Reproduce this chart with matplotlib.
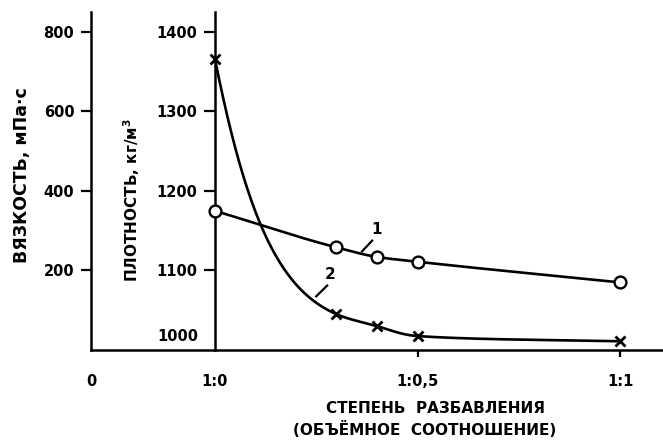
import numpy as np
import matplotlib

matplotlib.use("Agg")
import matplotlib.pyplot as plt

# dilution ratio (water share), tick labels
dilution = [0.0, 0.3, 0.4, 0.5, 1.0]
x_ticks = [0.0, 0.5, 1.0]
x_tick_labels = ["1:0", "1:0,5", "1:1"]

# curve 1: density, kg/m3 (circles)
density = [1175, 1129, 1117, 1111, 1085]
# curve 2: viscosity, mPa*s (crosses)
viscosity = [732, 90, 60, 35, 22]

visc_ticks = [200, 400, 600, 800]
dens_ticks = [1000, 1100, 1200, 1300, 1400]


def dens_to_visc(d):
    return (np.asarray(d, dtype=float) - 1000.0) * 2.0


def visc_to_dens(v):
    return 1000.0 + np.asarray(v, dtype=float) / 2.0


def pchip(x, y, xs):
    """Monotone cubic (Fritsch-Carlson) through the points, just for drawing."""
    x = np.asarray(x, float)
    y = np.asarray(y, float)
    h = np.diff(x)
    delta = np.diff(y) / h
    m = np.zeros_like(y)
    m[0], m[-1] = delta[0], delta[-1]
    for k in range(1, len(x) - 1):
        if delta[k - 1] * delta[k] > 0:
            w1 = 2 * h[k] + h[k - 1]
            w2 = h[k] + 2 * h[k - 1]
            m[k] = (w1 + w2) / (w1 / delta[k - 1] + w2 / delta[k])
    idx = np.clip(np.searchsorted(x, xs) - 1, 0, len(x) - 2)
    t = (xs - x[idx]) / h[idx]
    h00 = 2 * t**3 - 3 * t**2 + 1
    h10 = t**3 - 2 * t**2 + t
    h01 = -2 * t**3 + 3 * t**2
    h11 = t**3 - t**2
    return h00 * y[idx] + h10 * h[idx] * m[idx] + h01 * y[idx + 1] + h11 * h[idx] * m[idx + 1]


plt.rcParams["font.family"] = "DejaVu Sans"
plt.rcParams["font.weight"] = "bold"

fig = plt.figure(figsize=(6.63, 4.44), dpi=100)
x_left, x_right = -0.306, 1.106
ax = fig.add_axes([91 / 663, 94 / 444, 1.0 - 91 / 663, 338 / 444])
ax.set_xlim(x_left, x_right)
ax.set_ylim(0, 850)

lw = 1.9
xs = np.linspace(0, 1.0, 400)

# curve 1 - density (drawn in viscosity coordinates of the same frame)
dens_line = pchip(dilution, dens_to_visc(density), xs)
ax.plot(xs, dens_line, color="black", lw=lw, zorder=3)
ax.plot(dilution, dens_to_visc(density), "o", ms=8.5, mfc="white", mec="black",
        mew=1.7, zorder=4, clip_on=False)

# curve 2 - viscosity, smooth in log space
visc_line = np.exp(pchip(dilution, np.log(viscosity), xs))
ax.plot(xs, visc_line, color="black", lw=lw, zorder=3)
ax.plot(dilution, viscosity, "x", ms=7, mec="black", mew=2.0, zorder=4, clip_on=False)

# curve numbers with small leaders
ax.plot([0.363, 0.388], [248, 275], color="black", lw=1.6)
ax.text(0.385, 285, "1", fontsize=11, ha="left", va="bottom")
ax.plot([0.250, 0.277], [135, 162], color="black", lw=1.6)
ax.text(0.27, 172, "2", fontsize=11, ha="left", va="bottom")

# frame
for side in ("top", "right"):
    ax.spines[side].set_visible(False)
ax.spines["left"].set_linewidth(1.8)
ax.spines["bottom"].set_linewidth(1.8)

ax.set_yticks(visc_ticks)
ax.set_yticklabels([str(v) for v in visc_ticks], fontsize=10.5, fontweight="bold")
ax.set_xticks([x_left] + x_ticks)
ax.set_xticklabels(["0"] + x_tick_labels, fontsize=10.5, fontweight="bold")
ax.tick_params(axis="y", direction="out", length=7, width=1.6, pad=5)
ax.tick_params(axis="x", direction="out", length=5, width=1.6, pad=12)
ax.get_xticklines()[0].set_visible(False)
ax.get_xticklines()[2].set_visible(False)

# density axis drawn at the 1:0 position
loc = (0 - x_left) / (x_right - x_left)
sec = ax.secondary_yaxis(loc, functions=(visc_to_dens, dens_to_visc))
sec.spines["left"].set_linewidth(1.8)
sec.set_yticks(dens_ticks[1:])
sec.set_yticklabels([str(v) for v in dens_ticks[1:]], fontsize=10.5, fontweight="bold")
sec.tick_params(axis="y", direction="out", length=8, width=1.6, pad=5)
ax.annotate(str(dens_ticks[0]), xy=(0, dens_to_visc(dens_ticks[0])), xytext=(-12, 10),
            textcoords="offset points", ha="right", va="center",
            fontsize=10.5, fontweight="bold")

# axis titles
fig.text(22 / 663, 1 - 175 / 444, "ВЯЗКОСТЬ, мПа·с", rotation=90, ha="center",
         va="center", fontsize=12.5, fontweight="bold")
fig.text(132 / 663, 1 - 200 / 444, "ПЛОТНОСТЬ, кг/м$^{\\mathbf{3}}$", rotation=90,
         ha="center", va="center", fontsize=11, fontweight="bold")
fig.text(435 / 663, 1 - 408 / 444, "СТЕПЕНЬ  РАЗБАВЛЕНИЯ", ha="center",
         va="center", fontsize=11, fontweight="bold")
fig.text(425 / 663, 1 - 429 / 444, "(ОБЪЁМНОЕ  СООТНОШЕНИЕ)", ha="center",
         va="center", fontsize=11, fontweight="bold")

fig.savefig("out.png", dpi=100)
